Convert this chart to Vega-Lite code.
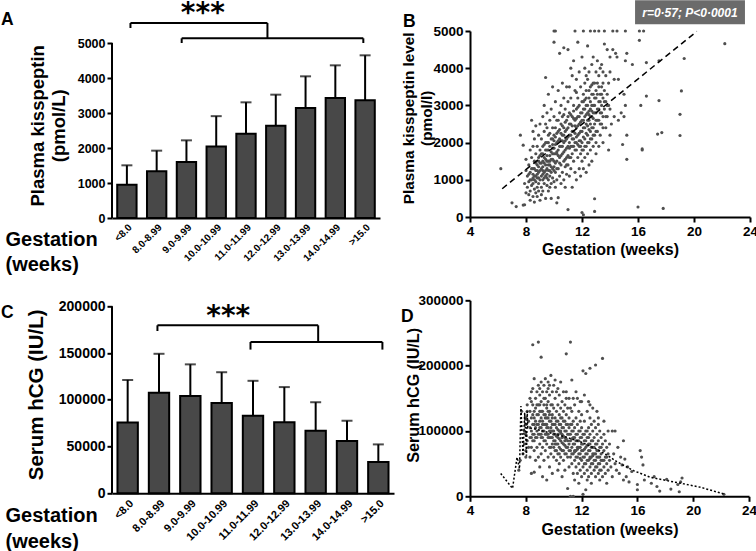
{
"$schema": "https://vega.github.io/schema/vega-lite/v6.json",
"padding": 0,
"background": "white",
"config": {"view": {"stroke": null}, "font": "Liberation Sans",
 "axis": {"grid": false, "domainColor": "#000", "domainWidth": 2, "tickColor": "#000", "tickWidth": 2, "tickSize": 5, "labelColor": "#000", "labelFontWeight": "bold", "labelFlush": false, "labelOverlap": false, "titleColor": "#000", "titleFontWeight": "bold", "labelPadding": 2}},
"columns": 2,
"bounds": "flush",
"align": "each",
"spacing": {"row": 82.3, "column": 76},
"datasets": {
 "kiss": [
  {"grp": "<8.0", "mean": 952, "upper": 1505},
  {"grp": "8.0-8.99", "mean": 1333, "upper": 1924},
  {"grp": "9.0-9.99", "mean": 1600, "upper": 2219},
  {"grp": "10.0-10.99", "mean": 2040, "upper": 2910},
  {"grp": "11.0-11.99", "mean": 2410, "upper": 3305},
  {"grp": "12.0-12.99", "mean": 2638, "upper": 3524},
  {"grp": "13.0-13.99", "mean": 3143, "upper": 4048},
  {"grp": "14.0-14.99", "mean": 3429, "upper": 4362},
  {"grp": ">15.0", "mean": 3362, "upper": 4648}
 ],
 "hcg": [
  {"grp": "<8.0", "mean": 75800, "upper": 121300},
  {"grp": "8.0-8.99", "mean": 107600, "upper": 149200},
  {"grp": "9.0-9.99", "mean": 104000, "upper": 137900},
  {"grp": "10.0-10.99", "mean": 96600, "upper": 129500},
  {"grp": "11.0-11.99", "mean": 82900, "upper": 120300},
  {"grp": "12.0-12.99", "mean": 76000, "upper": 113600},
  {"grp": "13.0-13.99", "mean": 67000, "upper": 97400},
  {"grp": "14.0-14.99", "mean": 56000, "upper": 77600},
  {"grp": ">15.0", "mean": 33500, "upper": 52300}
 ],
 "bracketA": [
  {"x": 0, "x2": 0, "y": 0, "y2": 5000},
  {"x": 0.62, "x2": 5.22, "y": 5571, "y2": 5571},
  {"x": 0.62, "x2": 0.62, "y": 5571, "y2": 5429},
  {"x": 5.22, "x2": 5.22, "y": 5571, "y2": 5134},
  {"x": 2.34, "x2": 8.44, "y": 5134, "y2": 5134},
  {"x": 2.34, "x2": 2.34, "y": 5134, "y2": 5000},
  {"x": 8.44, "x2": 8.44, "y": 5134, "y2": 5000}
 ],
 "starsA": [{"x": 3.05, "y": 5586, "t": "***"}],
 "letterA": [{"x": -3.728, "y": 5506, "t": "A"}],
 "bracketC": [
  {"x": 0, "x2": 0, "y": 0, "y2": 200000},
  {"x": 1.45, "x2": 6.58, "y": 179676, "y2": 179676},
  {"x": 1.45, "x2": 1.45, "y": 179676, "y2": 173580},
  {"x": 6.58, "x2": 6.58, "y": 179676, "y2": 161815},
  {"x": 4.42, "x2": 8.63, "y": 161815, "y2": 161815},
  {"x": 4.42, "x2": 4.42, "y": 161815, "y2": 153687},
  {"x": 8.63, "x2": 8.63, "y": 161815, "y2": 153687}
 ],
 "starsC": [{"x": 3.71, "y": 179783, "t": "***"}],
 "letterC": [{"x": -3.543, "y": 187162, "t": "C"}],
 "letterB": [{"x": -0.786, "y": 5108, "t": "B"}],
 "letterD": [{"x": -0.946, "y": 266786, "t": "D"}],
 "boxB": [{"x": 15.79, "x2": 23.64, "y": 5825, "y2": 5180}],
 "statB": [{"x": 19.71, "y": 5387, "t": "r=0·57; P<0·0001"}],
 "kissFit": [{"gest": 6.3, "val": 760}, {"gest": 20.2, "val": 4990}],
 "hcgFit": [
  {"gest": 6.2, "val": 35000}, {"gest": 7.05, "val": 12000}, {"gest": 7.37, "val": 59700}, {"gest": 7.55, "val": 42000},
  {"gest": 7.65, "val": 138000}, {"gest": 7.8, "val": 62000}, {"gest": 7.92, "val": 128000}, {"gest": 8.05, "val": 62000},
  {"gest": 8.1, "val": 130000}, {"gest": 8.14, "val": 105600}, {"gest": 9.58, "val": 98000}, {"gest": 10.79, "val": 91400}, {"gest": 12.0, "val": 82700},
  {"gest": 13.19, "val": 71000}, {"gest": 14.04, "val": 60000}, {"gest": 14.52, "val": 53100}, {"gest": 15.72, "val": 39300},
  {"gest": 16.92, "val": 29100}, {"gest": 18.13, "val": 24000}, {"gest": 19.33, "val": 19000}, {"gest": 20.53, "val": 13800},
  {"gest": 22.2, "val": 3600}
 ],
 "kissPts": [
  {"gest":6.2,"val":1300},{"gest":7.0,"val":380},{"gest":7.3,"val":280},{"gest":7.6,"val":2200},{"gest":7.8,"val":1930},{"gest":7.8,"val":320},{"gest":7.9,"val":330},{"gest":8.0,"val":650},{"gest":7.9,"val":900},{"gest":8.0,"val":1250},{"gest":8.0,"val":1550},
  {"gest":8.1,"val":800},{"gest":8.1,"val":1100},{"gest":8.2,"val":1400},{"gest":8.2,"val":950},{"gest":8.2,"val":600},{"gest":8.3,"val":1800},{"gest":8.3,"val":1200},{"gest":8.3,"val":700},{"gest":8.3,"val":450},{"gest":8.4,"val":2600},{"gest":8.4,"val":1000},{"gest":8.4,"val":1600},{"gest":8.4,"val":850},{"gest":8.5,"val":2300},{"gest":8.5,"val":1300},{"gest":8.5,"val":900},{"gest":8.5,"val":550},{"gest":8.5,"val":1900},{"gest":8.6,"val":1100},{"gest":8.6,"val":1500},{"gest":8.6,"val":750},{"gest":8.6,"val":2100},{"gest":8.6,"val":400},{"gest":8.7,"val":1250},{"gest":8.7,"val":1700},{"gest":8.7,"val":950},{"gest":8.7,"val":650},{"gest":8.7,"val":2450},{"gest":8.8,"val":1050},{"gest":8.8,"val":1400},{"gest":8.8,"val":800},{"gest":8.8,"val":1900},{"gest":8.8,"val":550},{"gest":8.9,"val":1200},{"gest":8.9,"val":1600},{"gest":8.9,"val":900},{"gest":8.9,"val":2200},{"gest":8.9,"val":700},{"gest":8.9,"val":1350},{"gest":9.0,"val":1000},{"gest":9.0,"val":1800},{"gest":9.0,"val":450},{"gest":9.0,"val":2500},{"gest":9.0,"val":1450},{"gest":8.8,"val":1150},{"gest":8.6,"val":1000},{"gest":8.4,"val":1300},
  {"gest":9.1,"val":1300},{"gest":9.1,"val":800},{"gest":9.1,"val":1700},{"gest":9.1,"val":2100},{"gest":9.1,"val":600},{"gest":9.2,"val":1500},{"gest":9.2,"val":1000},{"gest":9.2,"val":2700},{"gest":9.2,"val":1900},{"gest":9.2,"val":700},{"gest":9.3,"val":1200},{"gest":9.3,"val":1600},{"gest":9.3,"val":2300},{"gest":9.3,"val":900},{"gest":9.3,"val":3000},{"gest":9.4,"val":1400},{"gest":9.4,"val":1100},{"gest":9.4,"val":1800},{"gest":9.4,"val":2500},{"gest":9.4,"val":500},{"gest":9.4,"val":3750},{"gest":9.5,"val":1300},{"gest":9.5,"val":2000},{"gest":9.5,"val":1650},{"gest":9.5,"val":850},{"gest":9.5,"val":2800},{"gest":9.5,"val":1150},{"gest":9.6,"val":1500},{"gest":9.6,"val":1000},{"gest":9.6,"val":2200},{"gest":9.6,"val":1800},{"gest":9.6,"val":3300},{"gest":9.6,"val":700},{"gest":9.7,"val":1400},{"gest":9.7,"val":1900},{"gest":9.7,"val":2600},{"gest":9.7,"val":1100},{"gest":9.7,"val":1650},{"gest":9.8,"val":1200},{"gest":9.8,"val":2100},{"gest":9.8,"val":1550},{"gest":9.8,"val":2900},{"gest":9.8,"val":900},{"gest":9.8,"val":500},{"gest":9.9,"val":1700},{"gest":9.9,"val":1300},{"gest":9.9,"val":2400},{"gest":9.9,"val":1950},{"gest":9.9,"val":3500},{"gest":9.9,"val":1050},{"gest":10.0,"val":1500},{"gest":10.0,"val":2200},{"gest":10.0,"val":1850},{"gest":10.0,"val":2700},{"gest":10.0,"val":1250},{"gest":10.0,"val":4700},{"gest":10.0,"val":5000},{"gest":10.1,"val":5000},{"gest":10.0,"val":950},{"gest":9.7,"val":800},{"gest":9.5,"val":2400},{"gest":9.3,"val":1950},{"gest":9.6,"val":1250},{"gest":9.9,"val":2100},{"gest":9.4,"val":1550},{"gest":9.2,"val":1250},
  {"gest":10.1,"val":1700},{"gest":10.1,"val":2400},{"gest":10.1,"val":1200},{"gest":10.1,"val":3100},{"gest":10.1,"val":800},{"gest":10.2,"val":1500},{"gest":10.2,"val":2000},{"gest":10.2,"val":2600},{"gest":10.2,"val":1000},{"gest":10.2,"val":380},{"gest":10.3,"val":1800},{"gest":10.3,"val":2300},{"gest":10.3,"val":1300},{"gest":10.3,"val":3400},{"gest":10.3,"val":520},{"gest":10.4,"val":1600},{"gest":10.4,"val":2100},{"gest":10.4,"val":2800},{"gest":10.4,"val":1100},{"gest":10.4,"val":4400},{"gest":10.5,"val":1900},{"gest":10.5,"val":2500},{"gest":10.5,"val":1400},{"gest":10.5,"val":3000},{"gest":10.5,"val":900},{"gest":10.6,"val":1700},{"gest":10.6,"val":2200},{"gest":10.6,"val":2700},{"gest":10.6,"val":1200},{"gest":10.6,"val":3600},{"gest":10.7,"val":2000},{"gest":10.7,"val":1500},{"gest":10.7,"val":2400},{"gest":10.7,"val":3200},{"gest":10.7,"val":1000},{"gest":10.7,"val":4550},{"gest":10.8,"val":1800},{"gest":10.8,"val":2300},{"gest":10.8,"val":1350},{"gest":10.8,"val":2900},{"gest":10.8,"val":800},{"gest":10.9,"val":2100},{"gest":10.9,"val":1600},{"gest":10.9,"val":2600},{"gest":10.9,"val":3500},{"gest":10.9,"val":1150},{"gest":11.0,"val":200},{"gest":11.0,"val":1900},{"gest":11.0,"val":2400},{"gest":11.0,"val":1400},{"gest":11.0,"val":3100},{"gest":11.0,"val":4500},{"gest":10.5,"val":2050},{"gest":10.3,"val":1650},{"gest":10.8,"val":2550},{"gest":10.6,"val":1900},{"gest":10.2,"val":2250},{"gest":10.9,"val":1850},{"gest":10.4,"val":1450},{"gest":10.7,"val":2750},{"gest":10.1,"val":1450},
  {"gest":11.1,"val":2200},{"gest":11.1,"val":1600},{"gest":11.1,"val":2800},{"gest":11.1,"val":1100},{"gest":11.1,"val":3500},{"gest":11.2,"val":1900},{"gest":11.2,"val":2500},{"gest":11.2,"val":1300},{"gest":11.2,"val":3200},{"gest":11.2,"val":4000},{"gest":11.3,"val":2100},{"gest":11.3,"val":1700},{"gest":11.3,"val":2700},{"gest":11.3,"val":3800},{"gest":11.3,"val":800},{"gest":11.4,"val":2300},{"gest":11.4,"val":1500},{"gest":11.4,"val":3000},{"gest":11.4,"val":1900},{"gest":11.4,"val":4200},{"gest":11.5,"val":2000},{"gest":11.5,"val":2600},{"gest":11.5,"val":1200},{"gest":11.5,"val":3400},{"gest":11.5,"val":5000},{"gest":11.6,"val":2400},{"gest":11.6,"val":1800},{"gest":11.6,"val":2900},{"gest":11.6,"val":1000},{"gest":11.6,"val":3700},{"gest":11.7,"val":2200},{"gest":11.7,"val":1600},{"gest":11.7,"val":3200},{"gest":11.7,"val":2700},{"gest":11.7,"val":4700},{"gest":11.8,"val":2500},{"gest":11.8,"val":1900},{"gest":11.8,"val":3000},{"gest":11.8,"val":1300},{"gest":11.8,"val":3900},{"gest":11.9,"val":2300},{"gest":11.9,"val":1700},{"gest":11.9,"val":2800},{"gest":11.9,"val":3500},{"gest":11.9,"val":1100},{"gest":12.0,"val":120},{"gest":12.0,"val":2600},{"gest":12.0,"val":2000},{"gest":12.0,"val":3100},{"gest":12.0,"val":1500},{"gest":12.0,"val":4300},{"gest":12.1,"val":60},{"gest":12.1,"val":5000},{"gest":11.5,"val":2250},{"gest":11.3,"val":2450},{"gest":11.7,"val":1950},{"gest":11.9,"val":2050},{"gest":11.1,"val":1850},{"gest":11.6,"val":2150},{"gest":11.4,"val":2650},{"gest":11.8,"val":2250},{"gest":11.2,"val":2750},{"gest":11.6,"val":3350},
  {"gest":12.1,"val":2400},{"gest":12.1,"val":1800},{"gest":12.1,"val":3300},{"gest":12.1,"val":2900},{"gest":12.1,"val":1300},{"gest":12.2,"val":2700},{"gest":12.2,"val":2100},{"gest":12.2,"val":3600},{"gest":12.2,"val":1600},{"gest":12.2,"val":4000},{"gest":12.3,"val":2500},{"gest":12.3,"val":1900},{"gest":12.3,"val":3000},{"gest":12.3,"val":3400},{"gest":12.3,"val":1200},{"gest":12.4,"val":2800},{"gest":12.4,"val":2200},{"gest":12.4,"val":3700},{"gest":12.4,"val":1700},{"gest":12.4,"val":4600},{"gest":12.5,"val":2600},{"gest":12.5,"val":3200},{"gest":12.5,"val":2000},{"gest":12.5,"val":3900},{"gest":12.5,"val":1400},{"gest":12.6,"val":2900},{"gest":12.6,"val":2300},{"gest":12.6,"val":3500},{"gest":12.6,"val":1800},{"gest":12.6,"val":5000},{"gest":12.7,"val":2700},{"gest":12.7,"val":3300},{"gest":12.7,"val":2100},{"gest":12.7,"val":4100},{"gest":12.7,"val":1500},{"gest":12.8,"val":3000},{"gest":12.8,"val":2400},{"gest":12.8,"val":3600},{"gest":12.8,"val":1900},{"gest":12.8,"val":4300},{"gest":12.9,"val":2800},{"gest":12.9,"val":3200},{"gest":12.9,"val":2200},{"gest":12.9,"val":150},{"gest":12.9,"val":490},{"gest":12.9,"val":5000},{"gest":13.0,"val":2600},{"gest":13.0,"val":3400},{"gest":13.0,"val":2000},{"gest":13.0,"val":3900},{"gest":13.0,"val":1700},{"gest":12.3,"val":2750},{"gest":12.5,"val":2350},{"gest":12.7,"val":2850},{"gest":12.2,"val":3150},{"gest":12.4,"val":2450},{"gest":12.6,"val":3100},{"gest":12.8,"val":2650},{"gest":12.1,"val":2150},{"gest":12.3,"val":3800},{"gest":12.5,"val":2850},{"gest":12.7,"val":3550},
  {"gest":13.1,"val":2900},{"gest":13.1,"val":3600},{"gest":13.1,"val":2300},{"gest":13.1,"val":4200},{"gest":13.2,"val":3100},{"gest":13.2,"val":2600},{"gest":13.2,"val":3800},{"gest":13.2,"val":5000},{"gest":13.2,"val":1900},{"gest":13.3,"val":2800},{"gest":13.3,"val":3300},{"gest":13.3,"val":4000},{"gest":13.3,"val":2200},{"gest":13.4,"val":3000},{"gest":13.4,"val":3500},{"gest":13.4,"val":2500},{"gest":13.4,"val":4100},{"gest":13.5,"val":2700},{"gest":13.5,"val":3200},{"gest":13.5,"val":3900},{"gest":13.5,"val":2000},{"gest":13.6,"val":3400},{"gest":13.6,"val":2900},{"gest":13.6,"val":5000},{"gest":13.6,"val":4650},{"gest":13.7,"val":3100},{"gest":13.7,"val":2400},{"gest":13.7,"val":3800},{"gest":13.8,"val":3300},{"gest":13.8,"val":2700},{"gest":13.8,"val":4500},{"gest":13.9,"val":3000},{"gest":13.9,"val":3600},{"gest":13.9,"val":1800},{"gest":14.0,"val":2900},{"gest":14.0,"val":3900},{"gest":14.0,"val":2200},{"gest":14.0,"val":4300},
  {"gest":14.1,"val":2500},{"gest":14.2,"val":5000},{"gest":14.2,"val":4500},{"gest":14.3,"val":3700},{"gest":14.3,"val":2700},{"gest":14.4,"val":4400},{"gest":14.5,"val":5000},{"gest":14.5,"val":4300},{"gest":14.6,"val":3700},{"gest":14.6,"val":2600},{"gest":14.8,"val":2800},{"gest":14.9,"val":1950},{"gest":15.0,"val":3300},{"gest":15.1,"val":3000},{"gest":15.1,"val":5000},{"gest":15.2,"val":2200},{"gest":15.2,"val":1550},{"gest":15.2,"val":4400},{"gest":15.1,"val":4200},{"gest":15.6,"val":4100},{"gest":15.0,"val":2700},{"gest":16.1,"val":5000},{"gest":16.1,"val":4750},{"gest":16.2,"val":3000},{"gest":16.3,"val":1800},{"gest":16.3,"val":1830},{"gest":16.4,"val":5000},{"gest":16.6,"val":4150},{"gest":16.6,"val":3250},{"gest":16.0,"val":270},{"gest":17.5,"val":4200},{"gest":17.5,"val":3130},{"gest":17.4,"val":2230},{"gest":17.7,"val":2270},{"gest":17.8,"val":230},{"gest":19.0,"val":2760},{"gest":19.0,"val":2190},{"gest":19.1,"val":3390},{"gest":19.3,"val":4260},{"gest":22.2,"val":4660},
  {"gest":8.5,"val":1150},{"gest":8.6,"val":1300},{"gest":8.7,"val":1450},{"gest":8.8,"val":1250},{"gest":8.9,"val":1050},{"gest":9.0,"val":1250},{"gest":9.0,"val":1650},{"gest":9.1,"val":1450},{"gest":9.1,"val":1100},{"gest":9.2,"val":1350},{"gest":9.2,"val":1700},{"gest":9.3,"val":1450},{"gest":9.3,"val":1050},{"gest":9.4,"val":1250},{"gest":9.4,"val":2000},{"gest":9.5,"val":1500},{"gest":9.5,"val":1800},{"gest":9.6,"val":1400},{"gest":9.6,"val":2000},{"gest":9.7,"val":1250},{"gest":9.7,"val":2250},{"gest":9.8,"val":1750},{"gest":9.8,"val":1350},{"gest":9.9,"val":1550},{"gest":9.9,"val":1850},{"gest":10.0,"val":1700},{"gest":10.0,"val":2050},{"gest":10.1,"val":1950},{"gest":10.1,"val":2150},{"gest":10.2,"val":1750},{"gest":10.2,"val":1300},{"gest":10.3,"val":2050},{"gest":10.3,"val":2600},{"gest":10.4,"val":1900},{"gest":10.4,"val":2350},{"gest":10.5,"val":1650},{"gest":10.5,"val":2250},{"gest":10.6,"val":2050},{"gest":10.6,"val":2450},{"gest":10.7,"val":1750},{"gest":10.7,"val":2200},{"gest":10.8,"val":2050},{"gest":10.8,"val":1550},{"gest":10.9,"val":2350},{"gest":10.9,"val":1400},{"gest":11.0,"val":2150},{"gest":11.0,"val":1650},{"gest":11.0,"val":2700},{"gest":11.1,"val":2000},{"gest":11.1,"val":2500},{"gest":11.2,"val":2200},{"gest":11.2,"val":1600},{"gest":11.3,"val":2300},{"gest":11.3,"val":1900},{"gest":11.4,"val":2100},{"gest":11.4,"val":2850},{"gest":11.5,"val":1800},{"gest":11.5,"val":2450},{"gest":11.6,"val":2650},{"gest":11.6,"val":2000},{"gest":11.7,"val":2450},{"gest":11.7,"val":2950},{"gest":11.8,"val":2700},{"gest":11.8,"val":2050},{"gest":11.9,"val":2550},{"gest":11.9,"val":1900},{"gest":12.0,"val":2300},{"gest":12.0,"val":2800},{"gest":12.0,"val":1800},{"gest":12.1,"val":2600},{"gest":12.1,"val":3100},{"gest":12.2,"val":2400},{"gest":12.2,"val":2900},{"gest":12.2,"val":1900},{"gest":12.3,"val":2250},{"gest":12.3,"val":3200},{"gest":12.4,"val":2600},{"gest":12.4,"val":3000},{"gest":12.4,"val":2000},{"gest":12.5,"val":2750},{"gest":12.5,"val":3400},{"gest":12.6,"val":2500},{"gest":12.6,"val":2700},{"gest":12.6,"val":2100},{"gest":12.7,"val":2400},{"gest":12.7,"val":3000},{"gest":12.8,"val":2800},{"gest":12.8,"val":3300},{"gest":12.8,"val":2200},{"gest":12.9,"val":2500},{"gest":12.9,"val":3000},{"gest":12.9,"val":3600},{"gest":13.0,"val":2800},{"gest":13.0,"val":3200},{"gest":13.0,"val":2300},{"gest":13.1,"val":2600},{"gest":13.1,"val":3300},{"gest":13.2,"val":2900},{"gest":13.2,"val":3500},{"gest":13.3,"val":3100},{"gest":13.3,"val":2500},{"gest":13.4,"val":2800},{"gest":13.4,"val":3300},{"gest":13.5,"val":2400},{"gest":13.5,"val":3600},{"gest":13.6,"val":3100},{"gest":13.7,"val":2700},{"gest":13.8,"val":3000},{"gest":8.3,"val":1000},{"gest":8.5,"val":1050},{"gest":8.7,"val":1100},{"gest":8.2,"val":1150},{"gest":8.9,"val":1500},{"gest":9.2,"val":1150},{"gest":9.5,"val":1050},{"gest":9.7,"val":1500},{"gest":10.0,"val":1350},{"gest":10.2,"val":1700}
 ],
 "hcgPts": [
  {"gest":7.5,"val":40000},{"gest":7.6,"val":55000},{"gest":7.7,"val":130000},{"gest":7.8,"val":65000},{"gest":7.9,"val":100000},{"gest":7.9,"val":80000},{"gest":8.0,"val":95000},{"gest":8.0,"val":120000},{"gest":8.0,"val":70000},{"gest":8.0,"val":110000},{"gest":8.0,"val":60000},{"gest":8.1,"val":130000},{"gest":8.1,"val":85000},{"gest":8.1,"val":140000},{"gest":8.2,"val":75000},{"gest":8.2,"val":115000},
  {"gest":8.3,"val":90000},{"gest":8.3,"val":130000},{"gest":8.3,"val":60000},{"gest":8.3,"val":150000},{"gest":8.4,"val":100000},{"gest":8.4,"val":35000},{"gest":8.4,"val":120000},{"gest":8.4,"val":75000},{"gest":8.5,"val":140000},{"gest":8.5,"val":232000},{"gest":8.5,"val":110000},{"gest":8.5,"val":85000},{"gest":8.5,"val":165000},{"gest":8.6,"val":37000},{"gest":8.6,"val":95000},{"gest":8.6,"val":130000},{"gest":8.6,"val":180000},{"gest":8.6,"val":70000},{"gest":8.7,"val":115000},{"gest":8.7,"val":150000},{"gest":8.7,"val":90000},{"gest":8.7,"val":55000},{"gest":8.8,"val":125000},{"gest":8.8,"val":160000},{"gest":8.8,"val":100000},{"gest":8.8,"val":75000},{"gest":8.9,"val":236000},{"gest":8.9,"val":140000},{"gest":8.9,"val":110000},{"gest":8.9,"val":170000},{"gest":8.9,"val":60000},{"gest":9.0,"val":130000},{"gest":9.0,"val":95000},{"gest":9.0,"val":155000},{"gest":9.0,"val":80000},{"gest":9.0,"val":45000},{"gest":8.4,"val":145000},{"gest":8.6,"val":110000},{"gest":8.8,"val":140000},{"gest":9.0,"val":115000},
  {"gest":9.1,"val":213000},{"gest":9.1,"val":120000},{"gest":9.1,"val":145000},{"gest":9.1,"val":90000},{"gest":9.1,"val":175000},{"gest":9.1,"val":65000},{"gest":9.2,"val":130000},{"gest":9.2,"val":100000},{"gest":9.2,"val":160000},{"gest":9.2,"val":75000},{"gest":9.2,"val":30000},{"gest":9.3,"val":140000},{"gest":9.3,"val":110000},{"gest":9.3,"val":170000},{"gest":9.3,"val":85000},{"gest":9.3,"val":55000},{"gest":9.4,"val":125000},{"gest":9.4,"val":150000},{"gest":9.4,"val":95000},{"gest":9.4,"val":180000},{"gest":9.4,"val":70000},{"gest":9.5,"val":135000},{"gest":9.5,"val":105000},{"gest":9.5,"val":160000},{"gest":9.5,"val":80000},{"gest":9.5,"val":25000},{"gest":9.6,"val":120000},{"gest":9.6,"val":145000},{"gest":9.6,"val":90000},{"gest":9.6,"val":175000},{"gest":9.6,"val":60000},{"gest":9.7,"val":130000},{"gest":9.7,"val":100000},{"gest":9.7,"val":155000},{"gest":9.7,"val":75000},{"gest":9.7,"val":45000},{"gest":9.8,"val":115000},{"gest":9.8,"val":140000},{"gest":9.8,"val":90000},{"gest":9.8,"val":185000},{"gest":9.8,"val":65000},{"gest":9.9,"val":125000},{"gest":9.9,"val":100000},{"gest":9.9,"val":160000},{"gest":9.9,"val":80000},{"gest":9.9,"val":35000},{"gest":10.0,"val":110000},{"gest":10.0,"val":135000},{"gest":10.0,"val":85000},{"gest":10.0,"val":170000},{"gest":10.0,"val":60000},{"gest":9.2,"val":115000},{"gest":9.4,"val":110000},{"gest":9.6,"val":105000},{"gest":9.8,"val":100000},{"gest":10.0,"val":95000},{"gest":9.3,"val":125000},{"gest":9.5,"val":120000},{"gest":9.7,"val":115000},{"gest":9.9,"val":110000},{"gest":9.1,"val":105000},{"gest":9.5,"val":95000},{"gest":9.9,"val":140000},{"gest":9.7,"val":170000},
  {"gest":10.1,"val":120000},{"gest":10.1,"val":95000},{"gest":10.1,"val":150000},{"gest":10.1,"val":70000},{"gest":10.1,"val":178000},{"gest":10.2,"val":105000},{"gest":10.2,"val":130000},{"gest":10.2,"val":80000},{"gest":10.2,"val":55000},{"gest":10.2,"val":160000},{"gest":10.3,"val":115000},{"gest":10.3,"val":90000},{"gest":10.3,"val":140000},{"gest":10.3,"val":65000},{"gest":10.3,"val":40000},{"gest":10.4,"val":100000},{"gest":10.4,"val":125000},{"gest":10.4,"val":75000},{"gest":10.4,"val":155000},{"gest":10.4,"val":50000},{"gest":10.5,"val":110000},{"gest":10.5,"val":85000},{"gest":10.5,"val":135000},{"gest":10.5,"val":60000},{"gest":10.5,"val":175000},{"gest":10.6,"val":95000},{"gest":10.6,"val":120000},{"gest":10.6,"val":70000},{"gest":10.6,"val":145000},{"gest":10.6,"val":30000},{"gest":10.7,"val":105000},{"gest":10.7,"val":80000},{"gest":10.7,"val":130000},{"gest":10.7,"val":55000},{"gest":10.7,"val":160000},{"gest":10.8,"val":90000},{"gest":10.8,"val":115000},{"gest":10.8,"val":65000},{"gest":10.8,"val":140000},{"gest":10.8,"val":40000},{"gest":10.9,"val":218000},{"gest":10.9,"val":100000},{"gest":10.9,"val":75000},{"gest":10.9,"val":125000},{"gest":10.9,"val":150000},{"gest":11.0,"val":85000},{"gest":11.0,"val":110000},{"gest":11.0,"val":60000},{"gest":11.0,"val":12000},{"gest":11.0,"val":135000},{"gest":10.2,"val":92000},{"gest":10.4,"val":88000},{"gest":10.6,"val":82000},{"gest":10.8,"val":78000},{"gest":10.3,"val":102000},{"gest":10.5,"val":97000},{"gest":10.7,"val":92000},{"gest":10.9,"val":88000},{"gest":10.1,"val":85000},{"gest":10.5,"val":72000},
  {"gest":11.1,"val":95000},{"gest":11.1,"val":70000},{"gest":11.1,"val":120000},{"gest":11.1,"val":45000},{"gest":11.1,"val":150000},{"gest":11.2,"val":236000},{"gest":11.2,"val":85000},{"gest":11.2,"val":110000},{"gest":11.2,"val":60000},{"gest":11.2,"val":0},{"gest":11.3,"val":100000},{"gest":11.3,"val":75000},{"gest":11.3,"val":130000},{"gest":11.3,"val":50000},{"gest":11.3,"val":178000},{"gest":11.4,"val":90000},{"gest":11.4,"val":65000},{"gest":11.4,"val":115000},{"gest":11.4,"val":0},{"gest":11.4,"val":35000},{"gest":11.5,"val":80000},{"gest":11.5,"val":105000},{"gest":11.5,"val":55000},{"gest":11.5,"val":140000},{"gest":11.5,"val":25000},{"gest":11.6,"val":95000},{"gest":11.6,"val":70000},{"gest":11.6,"val":120000},{"gest":11.6,"val":45000},{"gest":11.6,"val":160000},{"gest":11.7,"val":85000},{"gest":11.7,"val":60000},{"gest":11.7,"val":110000},{"gest":11.7,"val":35000},{"gest":11.7,"val":150000},{"gest":11.8,"val":75000},{"gest":11.8,"val":100000},{"gest":11.8,"val":50000},{"gest":11.8,"val":130000},{"gest":11.8,"val":20000},{"gest":11.9,"val":90000},{"gest":11.9,"val":65000},{"gest":11.9,"val":115000},{"gest":11.9,"val":40000},{"gest":11.9,"val":145000},{"gest":12.0,"val":80000},{"gest":12.0,"val":55000},{"gest":12.0,"val":105000},{"gest":12.0,"val":30000},{"gest":12.0,"val":125000},{"gest":11.3,"val":88000},{"gest":11.5,"val":68000},{"gest":11.7,"val":72000},{"gest":11.9,"val":58000},{"gest":11.2,"val":135000},
  {"gest":12.1,"val":192000},{"gest":12.1,"val":70000},{"gest":12.1,"val":95000},{"gest":12.1,"val":45000},{"gest":12.1,"val":3000},{"gest":12.2,"val":85000},{"gest":12.2,"val":60000},{"gest":12.2,"val":115000},{"gest":12.2,"val":35000},{"gest":12.2,"val":155000},{"gest":12.3,"val":188000},{"gest":12.3,"val":75000},{"gest":12.3,"val":100000},{"gest":12.3,"val":50000},{"gest":12.3,"val":10000},{"gest":12.4,"val":65000},{"gest":12.4,"val":90000},{"gest":12.4,"val":40000},{"gest":12.4,"val":130000},{"gest":12.4,"val":25000},{"gest":12.5,"val":80000},{"gest":12.5,"val":55000},{"gest":12.5,"val":105000},{"gest":12.5,"val":145000},{"gest":12.5,"val":30000},{"gest":12.6,"val":196000},{"gest":12.6,"val":70000},{"gest":12.6,"val":95000},{"gest":12.6,"val":45000},{"gest":12.6,"val":120000},{"gest":12.7,"val":60000},{"gest":12.7,"val":85000},{"gest":12.7,"val":35000},{"gest":12.7,"val":110000},{"gest":12.7,"val":20000},{"gest":12.8,"val":75000},{"gest":12.8,"val":50000},{"gest":12.8,"val":100000},{"gest":12.8,"val":135000},{"gest":12.9,"val":65000},{"gest":12.9,"val":90000},{"gest":12.9,"val":40000},{"gest":12.9,"val":115000},{"gest":13.0,"val":201000},{"gest":13.0,"val":55000},{"gest":13.0,"val":80000},{"gest":13.0,"val":30000},{"gest":13.0,"val":105000},{"gest":12.2,"val":72000},{"gest":12.4,"val":78000},{"gest":12.6,"val":58000},{"gest":12.8,"val":62000},
  {"gest":13.1,"val":70000},{"gest":13.1,"val":45000},{"gest":13.1,"val":95000},{"gest":13.1,"val":130000},{"gest":13.2,"val":60000},{"gest":13.2,"val":85000},{"gest":13.2,"val":35000},{"gest":13.2,"val":110000},{"gest":13.3,"val":50000},{"gest":13.3,"val":75000},{"gest":13.3,"val":100000},{"gest":13.3,"val":25000},{"gest":13.4,"val":65000},{"gest":13.4,"val":40000},{"gest":13.4,"val":90000},{"gest":13.5,"val":211000},{"gest":13.5,"val":55000},{"gest":13.5,"val":80000},{"gest":13.5,"val":30000},{"gest":13.6,"val":70000},{"gest":13.6,"val":45000},{"gest":13.6,"val":95000},{"gest":13.7,"val":60000},{"gest":13.7,"val":35000},{"gest":13.7,"val":85000},{"gest":13.8,"val":50000},{"gest":13.8,"val":75000},{"gest":13.8,"val":20000},{"gest":13.9,"val":65000},{"gest":13.9,"val":40000},{"gest":14.0,"val":55000},{"gest":14.0,"val":80000},{"gest":13.9,"val":100000},
  {"gest":14.1,"val":45000},{"gest":14.2,"val":100000},{"gest":14.2,"val":30000},{"gest":14.3,"val":65000},{"gest":14.4,"val":100000},{"gest":14.4,"val":50000},{"gest":14.5,"val":40000},{"gest":14.6,"val":75000},{"gest":14.7,"val":35000},{"gest":14.8,"val":60000},{"gest":14.9,"val":48000},{"gest":15.0,"val":85000},{"gest":15.0,"val":25000},{"gest":15.1,"val":57000},{"gest":15.2,"val":30000},{"gest":15.3,"val":45000},{"gest":15.4,"val":22000},{"gest":15.6,"val":38000},{"gest":16.0,"val":18000},{"gest":16.0,"val":10000},{"gest":16.2,"val":70000},{"gest":16.3,"val":60000},{"gest":16.4,"val":48000},{"gest":16.5,"val":25000},{"gest":17.0,"val":20000},{"gest":17.2,"val":30000},{"gest":17.4,"val":15000},{"gest":17.6,"val":8000},{"gest":18.1,"val":26000},{"gest":18.4,"val":11000},{"gest":18.9,"val":18000},{"gest":19.0,"val":7000},{"gest":19.1,"val":22000},{"gest":19.2,"val":28000},{"gest":22.2,"val":3000},
  {"gest":8.3,"val":105000},{"gest":8.4,"val":90000},{"gest":8.5,"val":125000},{"gest":8.5,"val":95000},{"gest":8.6,"val":120000},{"gest":8.6,"val":85000},{"gest":8.7,"val":105000},{"gest":8.7,"val":135000},{"gest":8.8,"val":110000},{"gest":8.8,"val":90000},{"gest":8.9,"val":125000},{"gest":8.9,"val":95000},{"gest":9.0,"val":105000},{"gest":9.0,"val":140000},{"gest":9.1,"val":95000},{"gest":9.1,"val":130000},{"gest":9.2,"val":110000},{"gest":9.2,"val":90000},{"gest":9.3,"val":100000},{"gest":9.3,"val":150000},{"gest":9.4,"val":120000},{"gest":9.4,"val":85000},{"gest":9.5,"val":110000},{"gest":9.5,"val":140000},{"gest":9.6,"val":95000},{"gest":9.6,"val":130000},{"gest":9.7,"val":90000},{"gest":9.7,"val":125000},{"gest":9.8,"val":105000},{"gest":9.8,"val":75000},{"gest":9.9,"val":90000},{"gest":9.9,"val":120000},{"gest":10.0,"val":100000},{"gest":10.0,"val":75000},{"gest":10.1,"val":110000},{"gest":10.1,"val":80000},{"gest":10.2,"val":115000},{"gest":10.2,"val":70000},{"gest":10.3,"val":95000},{"gest":10.3,"val":80000},{"gest":10.4,"val":110000},{"gest":10.4,"val":65000},{"gest":10.5,"val":100000},{"gest":10.5,"val":120000},{"gest":10.6,"val":90000},{"gest":10.6,"val":105000},{"gest":10.7,"val":70000},{"gest":10.7,"val":115000},{"gest":10.8,"val":85000},{"gest":10.8,"val":100000},{"gest":10.9,"val":65000},{"gest":10.9,"val":110000},{"gest":11.0,"val":95000},{"gest":11.0,"val":75000},{"gest":11.1,"val":80000},{"gest":11.1,"val":105000},{"gest":11.2,"val":70000},{"gest":11.2,"val":95000},{"gest":11.3,"val":65000},{"gest":11.3,"val":110000},{"gest":11.4,"val":80000},{"gest":11.4,"val":100000},{"gest":11.5,"val":90000},{"gest":11.5,"val":70000},{"gest":11.6,"val":60000},{"gest":11.6,"val":85000},{"gest":11.7,"val":95000},{"gest":11.7,"val":75000},{"gest":11.8,"val":65000},{"gest":11.8,"val":85000},{"gest":11.9,"val":75000},{"gest":11.9,"val":100000},{"gest":12.0,"val":70000},{"gest":12.0,"val":90000},{"gest":12.1,"val":60000},{"gest":12.1,"val":80000},{"gest":12.2,"val":95000},{"gest":12.2,"val":50000},{"gest":12.3,"val":65000},{"gest":12.3,"val":85000},{"gest":12.4,"val":55000},{"gest":12.4,"val":100000},{"gest":12.5,"val":70000},{"gest":12.5,"val":90000},{"gest":12.6,"val":60000},{"gest":12.6,"val":80000},{"gest":12.7,"val":75000},{"gest":12.7,"val":50000},{"gest":12.8,"val":65000},{"gest":12.8,"val":85000},{"gest":12.9,"val":55000},{"gest":12.9,"val":75000},{"gest":13.0,"val":65000},{"gest":13.0,"val":45000},{"gest":13.1,"val":60000},{"gest":13.1,"val":80000},{"gest":13.2,"val":50000},{"gest":13.2,"val":70000},{"gest":13.3,"val":60000},{"gest":13.3,"val":40000},{"gest":13.4,"val":55000},{"gest":13.4,"val":75000},{"gest":13.6,"val":55000},{"gest":13.8,"val":60000},{"gest":8.4,"val":160000},{"gest":9.0,"val":165000},{"gest":9.6,"val":165000},{"gest":10.3,"val":165000},{"gest":10.9,"val":160000},{"gest":11.4,"val":150000},{"gest":12.0,"val":145000},{"gest":12.6,"val":140000},{"gest":13.2,"val":120000},{"gest":13.6,"val":115000}
 ]
},
"concat": [
 {
  "width": 268, "height": 187,
  "resolve": {"scale": {"x": "independent"}},
  "layer": [
   {"data": {"name": "kiss"}, "mark": {"type": "bar", "fill": "#484848", "stroke": "#000", "strokeWidth": 2},
    "encoding": {
     "x": {"field": "grp", "type": "nominal", "sort": null, "scale": {"paddingInner": 0.35, "paddingOuter": 0.175},
      "axis": {"title": ["Gestation", "(weeks)"], "titleX": -107, "titleY": 27.5, "titleAlign": "left", "titleBaseline": "alphabetic", "titleFontSize": 20, "titleLineHeight": 25, "labelAngle": -45, "labelFontSize": 10, "labelPadding": 4, "ticks": false, "labelOverlap": false}},
     "y": {"field": "mean", "type": "quantitative", "scale": {"domain": [0, 5343], "nice": false},
      "axis": {"values": [0, 1000, 2000, 3000, 4000, 5000], "tickCount": 12, "format": "d", "domain": false, "labelOverlap": false, "labelFontSize": 12.5, "title": ["Plasma kisspeptin", "(pmol/L)"], "titleFontSize": 18.5, "titleX": -68.5, "titleY": 94.3, "titleAlign": "center", "titleBaseline": "alphabetic", "titleLineHeight": 21}}
    }},
   {"data": {"name": "kiss"}, "mark": {"type": "rule", "color": "#000", "strokeWidth": 2},
    "encoding": {"x": {"field": "grp", "type": "nominal", "sort": null, "scale": {"paddingInner": 0.35, "paddingOuter": 0.175}, "axis": null},
     "y": {"field": "mean", "type": "quantitative", "scale": {"domain": [0, 5343], "nice": false}}, "y2": {"field": "upper"}}},
   {"data": {"name": "kiss"}, "mark": {"type": "tick", "color": "#000", "thickness": 2, "size": 11},
    "encoding": {"x": {"field": "grp", "type": "nominal", "sort": null, "scale": {"paddingInner": 0.35, "paddingOuter": 0.175}, "axis": null},
     "y": {"field": "upper", "type": "quantitative", "scale": {"domain": [0, 5343], "nice": false}}}},
   {"data": {"name": "bracketA"}, "mark": {"type": "rule", "color": "#000", "strokeWidth": 2, "clip": false},
    "encoding": {"x": {"field": "x", "type": "quantitative", "scale": {"domain": [0, 9], "nice": false, "zero": false}, "axis": null}, "x2": {"field": "x2"},
     "y": {"field": "y", "type": "quantitative", "scale": {"domain": [0, 5343], "nice": false}}, "y2": {"field": "y2"}}},
   {"data": {"name": "starsA"}, "mark": {"type": "text", "font": "DejaVu Sans", "fontWeight": "bold", "fontSize": 28, "align": "center", "baseline": "alphabetic", "color": "#000", "clip": false},
    "encoding": {"x": {"field": "x", "type": "quantitative", "scale": {"domain": [0, 9], "nice": false, "zero": false}, "axis": null},
     "y": {"field": "y", "type": "quantitative", "scale": {"domain": [0, 5343], "nice": false}}, "text": {"field": "t"}}},
   {"data": {"name": "letterA"}, "mark": {"type": "text", "fontWeight": "bold", "fontSize": 17.5, "align": "left", "baseline": "alphabetic", "color": "#000", "clip": false},
    "encoding": {"x": {"field": "x", "type": "quantitative", "scale": {"domain": [0, 9], "nice": false, "zero": false}, "axis": null},
     "y": {"field": "y", "type": "quantitative", "scale": {"domain": [0, 5343], "nice": false}}, "text": {"field": "t"}}}
  ]
 },
 {
  "width": 280, "height": 186,
  "layer": [
   {"data": {"name": "kissPts"}, "mark": {"type": "circle", "size": 10, "color": "#4f4f4f", "opacity": 1},
    "encoding": {
     "x": {"field": "gest", "type": "quantitative", "scale": {"domain": [4, 24], "nice": false, "zero": false},
      "axis": {"values": [4, 8, 12, 16, 20, 24], "tickCount": 12, "labelOverlap": false, "labelFontSize": 13.5, "title": "Gestation (weeks)", "titleFontSize": 16, "titleY": 37, "titleBaseline": "alphabetic"}},
     "y": {"field": "val", "type": "quantitative", "scale": {"domain": [0, 5000], "nice": false},
      "axis": {"values": [0, 1000, 2000, 3000, 4000, 5000], "tickCount": 12, "format": "d", "labelOverlap": false, "labelFontSize": 13.5, "title": ["Plasma kisspeptin level", "(pmol/l)"], "titleFontSize": 15.3, "titleX": -56.3, "titleY": 86.8, "titleAlign": "center", "titleBaseline": "alphabetic", "titleLineHeight": 17.5}}
    }},
   {"data": {"name": "kissFit"}, "mark": {"type": "line", "color": "#000", "strokeWidth": 1.5, "strokeDash": [6, 4]},
    "encoding": {"x": {"field": "gest", "type": "quantitative", "scale": {"domain": [4, 24], "nice": false, "zero": false}},
     "y": {"field": "val", "type": "quantitative", "scale": {"domain": [0, 5000], "nice": false}}}},
   {"data": {"name": "boxB"}, "mark": {"type": "rect", "color": "#6b6b6b", "clip": false},
    "encoding": {"x": {"field": "x", "type": "quantitative", "scale": {"domain": [4, 24], "nice": false, "zero": false}}, "x2": {"field": "x2"},
     "y": {"field": "y", "type": "quantitative", "scale": {"domain": [0, 5000], "nice": false}}, "y2": {"field": "y2"}}},
   {"data": {"name": "statB"}, "mark": {"type": "text", "color": "#fff", "fontSize": 12, "fontWeight": "bold", "fontStyle": "italic", "align": "center", "baseline": "alphabetic", "clip": false},
    "encoding": {"x": {"field": "x", "type": "quantitative", "scale": {"domain": [4, 24], "nice": false, "zero": false}},
     "y": {"field": "y", "type": "quantitative", "scale": {"domain": [0, 5000], "nice": false}}, "text": {"field": "t"}}},
   {"data": {"name": "letterB"}, "mark": {"type": "text", "fontWeight": "bold", "fontSize": 17.5, "align": "left", "baseline": "alphabetic", "color": "#000", "clip": false},
    "encoding": {"x": {"field": "x", "type": "quantitative", "scale": {"domain": [4, 24], "nice": false, "zero": false}},
     "y": {"field": "y", "type": "quantitative", "scale": {"domain": [0, 5000], "nice": false}}, "text": {"field": "t"}}}
  ]
 },
 {
  "width": 282, "height": 193,
  "resolve": {"scale": {"x": "independent"}},
  "layer": [
   {"data": {"name": "hcg"}, "mark": {"type": "bar", "fill": "#484848", "stroke": "#000", "strokeWidth": 2},
    "encoding": {
     "x": {"field": "grp", "type": "nominal", "sort": null, "scale": {"paddingInner": 0.35, "paddingOuter": 0.175},
      "axis": {"title": ["Gestation", "(weeks)"], "titleX": -107, "titleY": 28, "titleAlign": "left", "titleBaseline": "alphabetic", "titleFontSize": 20, "titleLineHeight": 26, "labelAngle": -45, "labelFontSize": 11, "labelPadding": 4, "ticks": false, "labelOverlap": false}},
     "y": {"field": "mean", "type": "quantitative", "scale": {"domain": [0, 206417], "nice": false},
      "axis": {"values": [0, 50000, 100000, 150000, 200000], "tickCount": 12, "format": "d", "domain": false, "labelOverlap": false, "labelFontSize": 14, "title": "Serum hCG (IU/L)", "titleFontSize": 20.5, "titleX": -69.6, "titleY": 94, "titleAlign": "center", "titleBaseline": "alphabetic"}}
    }},
   {"data": {"name": "hcg"}, "mark": {"type": "rule", "color": "#000", "strokeWidth": 2},
    "encoding": {"x": {"field": "grp", "type": "nominal", "sort": null, "scale": {"paddingInner": 0.35, "paddingOuter": 0.175}, "axis": null},
     "y": {"field": "mean", "type": "quantitative", "scale": {"domain": [0, 206417], "nice": false}}, "y2": {"field": "upper"}}},
   {"data": {"name": "hcg"}, "mark": {"type": "tick", "color": "#000", "thickness": 2, "size": 11},
    "encoding": {"x": {"field": "grp", "type": "nominal", "sort": null, "scale": {"paddingInner": 0.35, "paddingOuter": 0.175}, "axis": null},
     "y": {"field": "upper", "type": "quantitative", "scale": {"domain": [0, 206417], "nice": false}}}},
   {"data": {"name": "bracketC"}, "mark": {"type": "rule", "color": "#000", "strokeWidth": 2, "clip": false},
    "encoding": {"x": {"field": "x", "type": "quantitative", "scale": {"domain": [0, 9], "nice": false, "zero": false}, "axis": null}, "x2": {"field": "x2"},
     "y": {"field": "y", "type": "quantitative", "scale": {"domain": [0, 206417], "nice": false}}, "y2": {"field": "y2"}}},
   {"data": {"name": "starsC"}, "mark": {"type": "text", "font": "DejaVu Sans", "fontWeight": "bold", "fontSize": 28, "align": "center", "baseline": "alphabetic", "color": "#000", "clip": false},
    "encoding": {"x": {"field": "x", "type": "quantitative", "scale": {"domain": [0, 9], "nice": false, "zero": false}, "axis": null},
     "y": {"field": "y", "type": "quantitative", "scale": {"domain": [0, 206417], "nice": false}}, "text": {"field": "t"}}},
   {"data": {"name": "letterC"}, "mark": {"type": "text", "fontWeight": "bold", "fontSize": 17.5, "align": "left", "baseline": "alphabetic", "color": "#000", "clip": false},
    "encoding": {"x": {"field": "x", "type": "quantitative", "scale": {"domain": [0, 9], "nice": false, "zero": false}, "axis": null},
     "y": {"field": "y", "type": "quantitative", "scale": {"domain": [0, 206417], "nice": false}}, "text": {"field": "t"}}}
  ]
 },
 {
  "width": 279, "height": 196,
  "layer": [
   {"data": {"name": "hcgPts"}, "mark": {"type": "circle", "size": 10, "color": "#4f4f4f", "opacity": 1},
    "encoding": {
     "x": {"field": "gest", "type": "quantitative", "scale": {"domain": [4, 24], "nice": false, "zero": false},
      "axis": {"values": [4, 8, 12, 16, 20, 24], "tickCount": 12, "labelOverlap": false, "labelFontSize": 13.5, "title": "Gestation (weeks)", "titleFontSize": 16, "titleY": 38, "titleBaseline": "alphabetic"}},
     "y": {"field": "val", "type": "quantitative", "scale": {"domain": [0, 300000], "nice": false},
      "axis": {"values": [0, 100000, 200000, 300000], "tickCount": 12, "format": "d", "labelOverlap": false, "labelFontSize": 13.5, "title": "Serum hCG (IU/L)", "titleFontSize": 16.2, "titleX": -51.4, "titleY": 94.5, "titleAlign": "center", "titleBaseline": "alphabetic"}}
    }},
   {"data": {"name": "hcgFit"}, "mark": {"type": "line", "color": "#000", "strokeWidth": 1.5, "strokeDash": [2, 2]},
    "encoding": {"x": {"field": "gest", "type": "quantitative", "scale": {"domain": [4, 24], "nice": false, "zero": false}},
     "y": {"field": "val", "type": "quantitative", "scale": {"domain": [0, 300000], "nice": false}}}},
   {"data": {"name": "letterD"}, "mark": {"type": "text", "fontWeight": "bold", "fontSize": 17.5, "align": "left", "baseline": "alphabetic", "color": "#000", "clip": false},
    "encoding": {"x": {"field": "x", "type": "quantitative", "scale": {"domain": [4, 24], "nice": false, "zero": false}},
     "y": {"field": "y", "type": "quantitative", "scale": {"domain": [0, 300000], "nice": false}}, "text": {"field": "t"}}}
  ]
 }
]
}
